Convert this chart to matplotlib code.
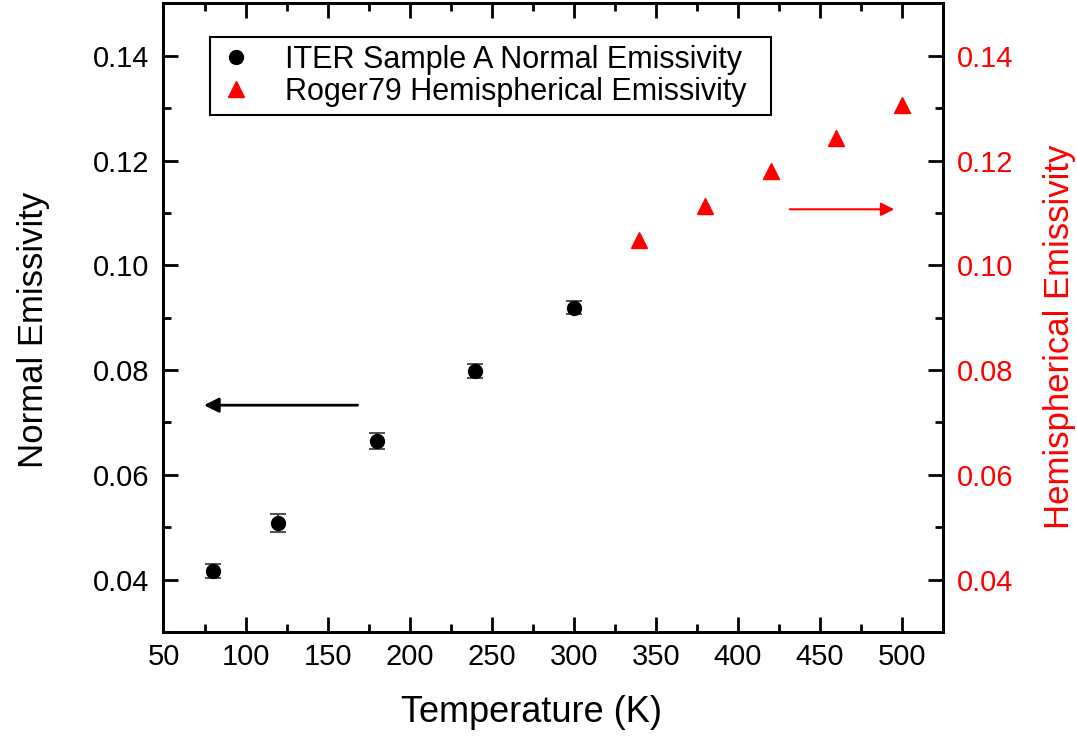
import matplotlib
matplotlib.use("Agg")
import matplotlib.pyplot as plt
from matplotlib.ticker import MultipleLocator, FormatStrFormatter

plt.rcParams['font.family'] = ['Liberation Sans', 'DejaVu Sans']

# ITER sample A, normal emissivity (left axis)
temp_iter = [80, 120, 180, 240, 300]
eps_iter = [0.0416, 0.0508, 0.0665, 0.0798, 0.0919]
err_iter = [0.0013, 0.0018, 0.0015, 0.0014, 0.0012]

# Roger79 hemispherical emissivity (right axis)
temp_roger = [340, 380, 420, 460, 500]
eps_roger = [0.1048, 0.1113, 0.1181, 0.1243, 0.1306]

fig = plt.figure(figsize=(10.77, 7.37), dpi=100)
ax = fig.add_axes([0.1518, 0.1425, 0.7238, 0.8528])
ax2 = ax.twinx()

h1 = ax.errorbar(temp_iter, eps_iter, yerr=err_iter, fmt='o', color='black',
                 ms=10, ecolor='#333333', elinewidth=1.2, capsize=6, capthick=1.2)
h2, = ax2.plot(temp_roger, eps_roger, '^', color='red', ms=12, mec='red')

for a in (ax, ax2):
    a.set_xlim(50, 525)
    a.set_ylim(0.03, 0.15)
    a.yaxis.set_major_locator(MultipleLocator(0.02))
    a.yaxis.set_minor_locator(MultipleLocator(0.01))
    a.xaxis.set_major_locator(MultipleLocator(50))
    a.xaxis.set_minor_locator(MultipleLocator(25))
    a.yaxis.set_major_formatter(FormatStrFormatter('%.2f'))
    for s in a.spines.values():
        s.set_linewidth(2)

ax.tick_params(which='both', direction='in', top=True, right=False, labelsize=21, width=2, pad=8)
ax.tick_params(axis='y', pad=10)
ax.tick_params(which='major', length=11)
ax.tick_params(which='minor', length=6)
ax2.tick_params(which='both', direction='in', labelsize=21, width=2, pad=10, labelcolor='red')
ax2.tick_params(which='major', length=11)
ax2.tick_params(which='minor', length=6)

ax.set_xlabel('Temperature (K)', fontsize=26)
ax.set_ylabel('Normal Emissivity', fontsize=25)
ax2.set_ylabel('Hemispherical Emissivity', fontsize=25, color='red')
ax.xaxis.set_label_coords(0.472, -0.100)
ax.yaxis.set_label_coords(-0.146, 0.48)
ax2.yaxis.set_label_coords(1.128, 0.47)

# direction arrows
ax.annotate('', xy=(73, 0.0733), xytext=(170, 0.0733),
            arrowprops=dict(arrowstyle='-|>', color='black', lw=2, mutation_scale=22))
ax2.annotate('', xy=(497, 0.1107), xytext=(430, 0.1107),
             arrowprops=dict(arrowstyle='-|>', color='red', lw=1.5, mutation_scale=20))

leg = ax.legend([h1[0], h2], ['ITER Sample A Normal Emissivity  ', 'Roger79 Hemispherical Emissivity  '],
                loc='upper left', bbox_to_anchor=(0.0597, 0.9467), fontsize=22, frameon=True,
                fancybox=False, edgecolor='black', framealpha=1, borderpad=0.25,
                labelspacing=0.08, handletextpad=1.0, handlelength=1.2, borderaxespad=0)
leg.get_frame().set_linewidth(1.5)

fig.savefig('out.png', dpi=100)
